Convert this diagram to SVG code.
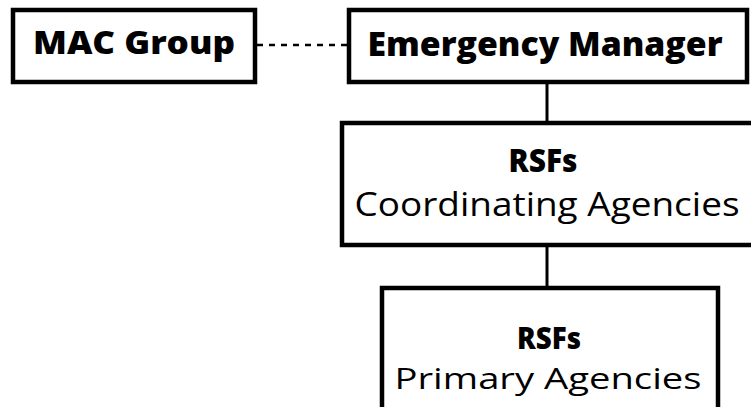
<svg xmlns="http://www.w3.org/2000/svg" width="751" height="407" viewBox="0 0 751 407">
  <style>
    .box { fill: #fff; stroke: #000; stroke-width: 4.5; }
    .link { stroke: #000; stroke-width: 3; fill: none; }
    .dash { stroke: #000; stroke-width: 2.5; stroke-dasharray: 6 6; fill: none; }
    text { font-family: "Open Sans", "Noto Sans", "Liberation Sans", sans-serif; fill: #000; text-anchor: middle; }
    .b { font-weight: 800; }
    .r { font-weight: 500; }
  </style>
  <rect width="751" height="407" fill="#fff"/>

  <g id="connectors">
    <line class="dash" x1="257" y1="45" x2="347" y2="45"/>
    <line class="link" x1="547" y1="82" x2="547" y2="122"/>
    <line class="link" x1="547" y1="245" x2="547" y2="287"/>
  </g>

  <g id="mac-group">
    <rect class="box" x="13" y="10" width="242" height="72"/>
    <text class="b" x="134" y="54" font-size="32" textLength="202" lengthAdjust="spacingAndGlyphs">MAC Group</text>
  </g>

  <g id="emergency-manager">
    <rect class="box" x="349" y="10" width="398" height="72"/>
    <text class="b" x="545" y="56" font-size="33" textLength="355" lengthAdjust="spacingAndGlyphs">Emergency Manager</text>
  </g>

  <g id="rsf-coordinating">
    <rect class="box" x="342" y="123" width="414" height="122"/>
    <text class="b" x="543" y="172" font-size="32" textLength="69" lengthAdjust="spacingAndGlyphs">RSFs</text>
    <text class="r" x="547" y="216" font-size="32" textLength="385" lengthAdjust="spacingAndGlyphs">Coordinating Agencies</text>
  </g>

  <g id="rsf-primary">
    <rect class="box" x="382" y="288" width="336" height="130"/>
    <text class="b" x="549" y="349" font-size="30" textLength="64" lengthAdjust="spacingAndGlyphs">RSFs</text>
    <text class="r" x="548" y="389" font-size="30" textLength="307" lengthAdjust="spacingAndGlyphs">Primary Agencies</text>
  </g>
</svg>
